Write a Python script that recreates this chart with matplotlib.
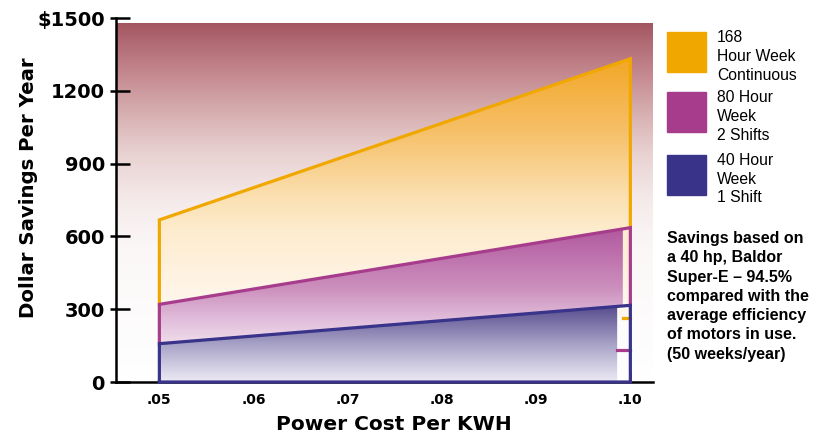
import numpy as np
import matplotlib
matplotlib.use("Agg")
import matplotlib.pyplot as plt
from matplotlib.colors import LinearSegmentedColormap
from matplotlib.patches import Polygon

# data
cost = [0.05, 0.10]
savings_168 = [668, 1332]
savings_80 = [320, 636]
savings_40 = [158, 316]
labels = ["168\nHour Week\nContinuous", "80 Hour\nWeek\n2 Shifts", "40 Hour\nWeek\n1 Shift"]
colors = ["#f0a800", "#a83c8c", "#39338a"]
yticks = [0, 300, 600, 900, 1200, 1500]
ytick_labels = ["0", "300", "600", "900", "1200", "$1500"]
xticks = [0.05, 0.06, 0.07, 0.08, 0.09, 0.10]
xtick_labels = [".05", ".06", ".07", ".08", ".09", ".10"]
# little leftover edges at the right end of the artwork
fill_end = [0.10, 0.0992, 0.0986]
stub_levels = [265, 130]
note = ("Savings based on\na 40 hp, Baldor\nSuper-E \u2013 94.5%\ncompared with the\n"
        "average efficiency\nof motors in use.\n(50 weeks/year)")

XMIN, XMAX = 0.0454, 0.1024
BG_TOP = 1480


def gradient(ax, stops, poly, zorder):
    vals = [v for v, _ in stops]
    lo, hi = min(vals), max(vals)
    pts = sorted(((v - lo) / (hi - lo), c) for v, c in stops)
    cmap = LinearSegmentedColormap.from_list("r", pts)
    grad = np.linspace(1, 0, 256).reshape(-1, 1)
    im = ax.imshow(grad, cmap=cmap, aspect="auto", extent=[XMIN, XMAX, lo, hi],
                   vmin=0, vmax=1, zorder=zorder, interpolation="bilinear")
    patch = Polygon(poly, closed=True, transform=ax.transData, facecolor="none", edgecolor="none")
    ax.add_patch(patch)
    im.set_clip_path(patch)


fig = plt.figure(figsize=(8.3, 4.34), dpi=100)
ax = fig.add_axes([0.1398, 0.1198, 0.6469, 0.8387])
ax.set_xlim(XMIN, XMAX)
ax.set_ylim(0, 1500)

# background
bg = [(BG_TOP, "#a3555f"), (1400, "#b06a74"), (1300, "#c08189"), (1150, "#d2a6a8"),
      (950, "#e8d0d0"), (750, "#f5eaea"), (550, "#fbf7f7"), (0, "#ffffff")]
gradient(ax, bg, [(XMIN, 0), (XMAX, 0), (XMAX, BG_TOP), (XMIN, BG_TOP)], 0)

yel = [(1340, "#f2a624"), (1040, "#f6bf66"), (750, "#fbe1b4"), (620, "#fdecce"),
       (330, "#fff6ec"), (250, "#fff8f0")]
pur = [(640, "#b0569e"), (380, "#cd91be"), (255, "#e1bedc"), (160, "#efdcea")]
blu = [(320, "#52488a"), (250, "#786ea5"), (150, "#aaa5c8"), (50, "#d7d4e6"), (0, "#eeebf5")]

c0, c1 = cost
gradient(ax, yel, [(c0, savings_80[0]), (c0, savings_168[0]), (c1, savings_168[1]),
                   (c1, stub_levels[0]), (fill_end[1], stub_levels[0])], 1)
e = fill_end[1]
y80e = np.interp(e, cost, savings_80)
y40e = np.interp(e, cost, savings_40)
gradient(ax, pur, [(c0, savings_40[0]), (c0, savings_80[0]), (e, y80e), (e, y40e)], 2)
e = fill_end[2]
y40e = np.interp(e, cost, savings_40)
gradient(ax, blu, [(c0, 0), (c0, savings_40[0]), (e, y40e), (e, 0)], 3)

lw = 2.3
ax.plot([c0, c0, c1, c1], [savings_80[0], savings_168[0], savings_168[1], savings_80[1]],
        color=colors[0], lw=lw, zorder=5, solid_joinstyle="miter")
ax.plot([c0, c0, c1, c1], [savings_40[0], savings_80[0], savings_80[1], savings_40[1]],
        color=colors[1], lw=lw, zorder=6, solid_joinstyle="miter")
ax.plot([c0, c0, c1, c1, c0], [0, savings_40[0], savings_40[1], 0, 0],
        color=colors[2], lw=lw, zorder=9, solid_joinstyle="miter", clip_on=False)
ax.plot([fill_end[1], c1], [stub_levels[0]] * 2, color=colors[0], lw=lw, zorder=4)
ax.plot([fill_end[2], c1], [stub_levels[1]] * 2, color=colors[1], lw=lw, zorder=4)

for s in ["top", "right"]:
    ax.spines[s].set_visible(False)
for s in ["left", "bottom"]:
    ax.spines[s].set_linewidth(1.8)
    ax.spines[s].set_zorder(8)

ax.set_yticks(yticks)
ax.set_yticklabels(ytick_labels, fontsize=14, fontweight="bold")
ax.set_yticks(yticks, minor=True)
ax.yaxis.remove_overlapping_locs = False
ax.tick_params(axis="y", which="major", direction="in", length=10, width=1.8, pad=8)
ax.tick_params(axis="y", which="minor", direction="out", length=4, width=1.8)
ax.set_xticks(xticks)
ax.set_xticklabels(xtick_labels, fontsize=10, fontweight="bold")
ax.tick_params(axis="x", which="major", direction="in", length=7, width=1.8, pad=8)

ax.set_xlabel("Power Cost Per KWH", fontsize=14.5, fontweight="bold")
ax.xaxis.set_label_coords(0.517, -0.092)
ax.xaxis.label.set_va("top")
ax.set_ylabel("Dollar Savings Per Year", fontsize=14.2, fontweight="bold")
ax.yaxis.set_label_coords(-0.146, 0.533)

# legend drawn as boxes and text
box_top = [0.926, 0.788, 0.643]
for top, lab, col in zip(box_top, labels, colors):
    fig.patches.append(plt.Rectangle((0.8036, top - 0.092), 0.047, 0.092, color=col,
                                     transform=fig.transFigure, figure=fig))
    fig.text(0.864, top + 0.005, lab, fontsize=11.3, family="Liberation Sans",
             va="top", ha="left", linespacing=1.32)

fig.text(0.8036, 0.468, note, fontsize=11.5, family="Liberation Sans", fontweight="bold",
         va="top", ha="left", linespacing=1.36)

fig.savefig("out.png", dpi=100)
